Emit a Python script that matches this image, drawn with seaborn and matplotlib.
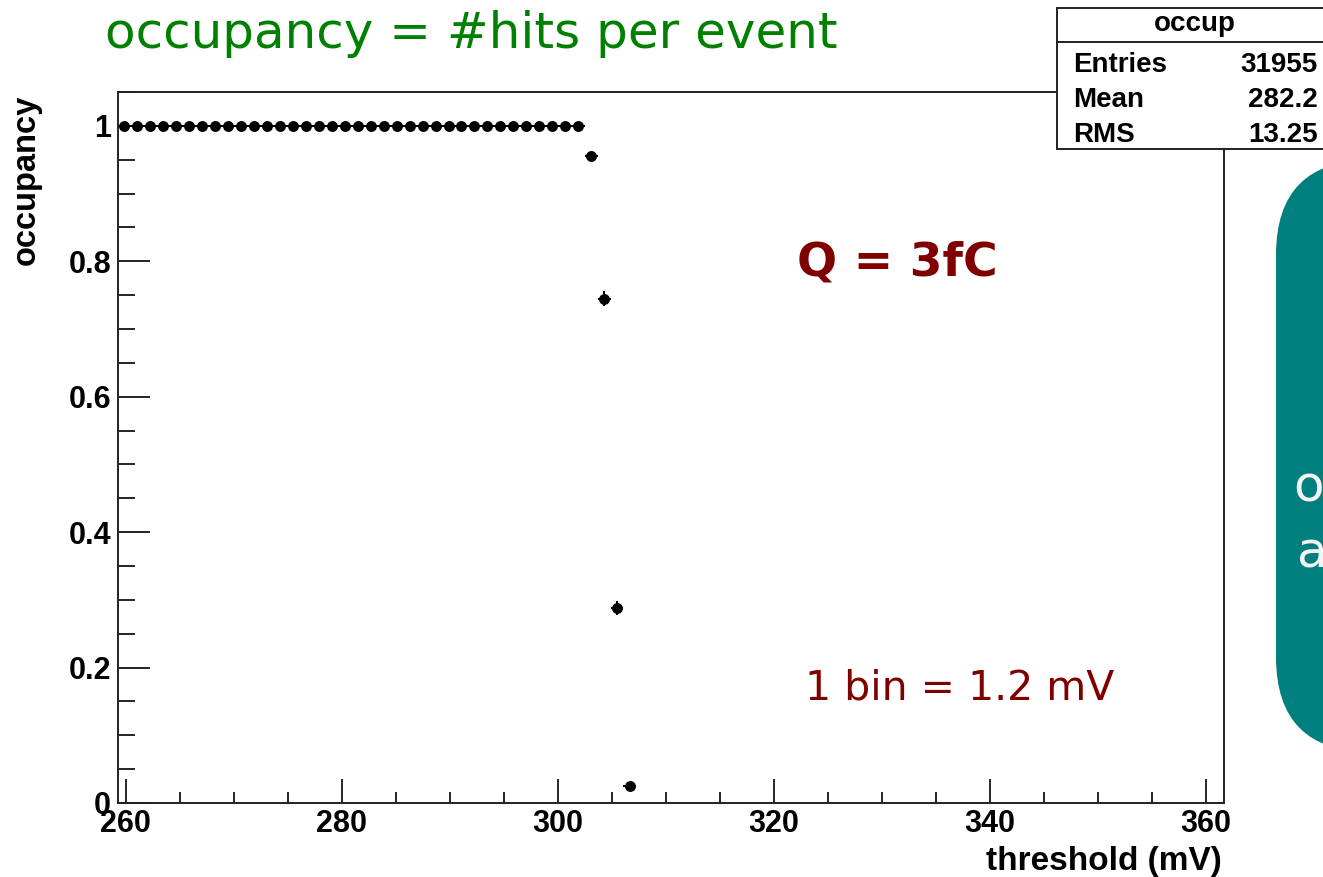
import matplotlib
matplotlib.use("Agg")
import matplotlib.pyplot as plt
from matplotlib.patches import Rectangle, FancyBboxPatch
from matplotlib.ticker import MultipleLocator
import seaborn as sns
import pandas as pd

# ---- data ----
threshold_mV = [259.9, 261.1, 262.3, 263.5, 264.7, 265.9, 267.1, 268.3, 269.5, 270.7,
                271.9, 273.1, 274.3, 275.5, 276.7, 277.9, 279.1, 280.3, 281.5, 282.7,
                283.9, 285.1, 286.3, 287.5, 288.7, 289.9, 291.1, 292.3, 293.5, 294.7,
                295.9, 297.1, 298.3, 299.5, 300.7, 301.9, 303.1, 304.3, 305.5, 306.7]
occupancy = [1.0] * 36 + [0.955, 0.745, 0.288, 0.025]
occupancy_err = [0.0] * 36 + [0.005, 0.011, 0.011, 0.004]
BIN_WIDTH = 1.2

x_ticks = [260, 280, 300, 320, 340, 360]
y_ticks = [0, 0.2, 0.4, 0.6, 0.8, 1]
y_tick_labels = ["0", "0.2", "0.4", "0.6", "0.8", "1"]

stats_title = "occup"
stats_names = ["Entries", "Mean", "RMS"]
stats_values = ["31955", "282.2", "13.25"]

df = pd.DataFrame({"threshold": threshold_mV, "occupancy": occupancy, "err": occupancy_err})

# ---- figure ----
sns.set_style("white")
plt.rcParams["font.family"] = ["DejaVu Sans"]

W, H = 1323, 877
fig = plt.figure(figsize=(W / 100, H / 100), dpi=100)
fig.patch.set_facecolor("white")

ax = fig.add_axes([118 / W, 1 - 803 / H, (1224 - 118) / W, (803 - 92) / H])
ax.set_facecolor("white")

sns.scatterplot(data=df, x="threshold", y="occupancy", ax=ax, color="black",
                marker="o", s=62, linewidth=0, zorder=3, legend=False)
ax.errorbar(df["threshold"], df["occupancy"], xerr=BIN_WIDTH / 2, yerr=df["err"],
            fmt="none", ecolor="black", elinewidth=1.5, capsize=0, zorder=2)

ax.set_xlim(259.3, 361.7)
ax.set_ylim(0, 1.05)
ax.set_xlabel("")
ax.set_ylabel("")

for s in ax.spines.values():
    s.set_visible(True)
    s.set_color("#222222")
    s.set_linewidth(1.4)

ax.set_xticks(x_ticks)
ax.set_xticklabels([str(t) for t in x_ticks])
ax.xaxis.set_minor_locator(MultipleLocator(5))
ax.set_yticks(y_ticks)
ax.set_yticklabels(y_tick_labels)
ax.yaxis.set_minor_locator(MultipleLocator(0.05))

ax.tick_params(axis="x", which="major", direction="in", length=17, width=1.2,
               pad=4, bottom=True, top=False, color="black")
ax.tick_params(axis="x", which="minor", direction="in", length=8, width=1.2,
               bottom=True, top=False, color="black")
ax.tick_params(axis="y", which="major", direction="in", length=23, width=1.2,
               pad=5, left=True, right=False, color="black")
ax.tick_params(axis="y", which="minor", direction="in", length=12, width=1.2,
               left=True, right=False, color="black")
for lab in ax.get_xticklabels() + ax.get_yticklabels():
    lab.set_fontfamily("Liberation Sans")
    lab.set_fontweight("bold")
    lab.set_fontsize(22)
    lab.set_color("black")

# ---- overlay in pixel coordinates ----
ov = fig.add_axes([0, 0, 1, 1], zorder=5)
ov.set_xlim(0, W)
ov.set_ylim(H, 0)
ov.axis("off")
ov.patch.set_alpha(0)

# axis titles
ov.text(26, 95, "occupancy", rotation=90, ha="center", va="top",
        family="Liberation Sans", weight="bold", fontsize=23.5, color="black")
ov.text(1222, 870, "threshold (mV)", ha="right", va="baseline",
        family="Liberation Sans", weight="bold", fontsize=24, color="black")

# slide title and annotations
ov.text(105, 48, "occupancy = #hits per event", ha="left", va="baseline",
        fontsize=36, color="#008000")
ov.text(797, 275, "Q = 3fC", ha="left", va="baseline",
        fontsize=34, weight="bold", color="#800000")
ov.text(805, 700, "1 bin = 1.2 mV", ha="left", va="baseline",
        fontsize=29.5, color="#800000")

# stats box
ov.add_patch(Rectangle((1057, 8), 300, 141, facecolor="white", edgecolor="#222222",
                       linewidth=1.4, zorder=6))
ov.plot([1057, 1330], [42, 42], color="#222222", linewidth=1.4, zorder=7)
ov.text(1195, 31, stats_title, ha="center", va="baseline", family="Liberation Sans",
        weight="bold", fontsize=20, color="black", zorder=8)
for name, val, yb in zip(stats_names, stats_values, [72, 107, 142]):
    ov.text(1073, yb, name, ha="left", va="baseline", family="Liberation Sans",
            weight="bold", fontsize=20, color="black", zorder=8)
    ov.text(1318, yb, val, ha="right", va="baseline", family="Liberation Sans",
            weight="bold", fontsize=20, color="black", zorder=8)

# teal rounded box (clipped by the figure edge)
ov.add_patch(FancyBboxPatch((1276, 160), 250, 592,
                            boxstyle="round,pad=0,rounding_size=95",
                            facecolor="#007f7f", edgecolor="none", zorder=4))
ov.text(1293, 502, "o", ha="left", va="baseline", fontsize=36, color="#f4f4f4", zorder=5)
ov.text(1297, 567, "a", ha="left", va="baseline", fontsize=36, color="#f4f4f4", zorder=5)

fig.savefig("out.png", dpi=100, facecolor="white")
